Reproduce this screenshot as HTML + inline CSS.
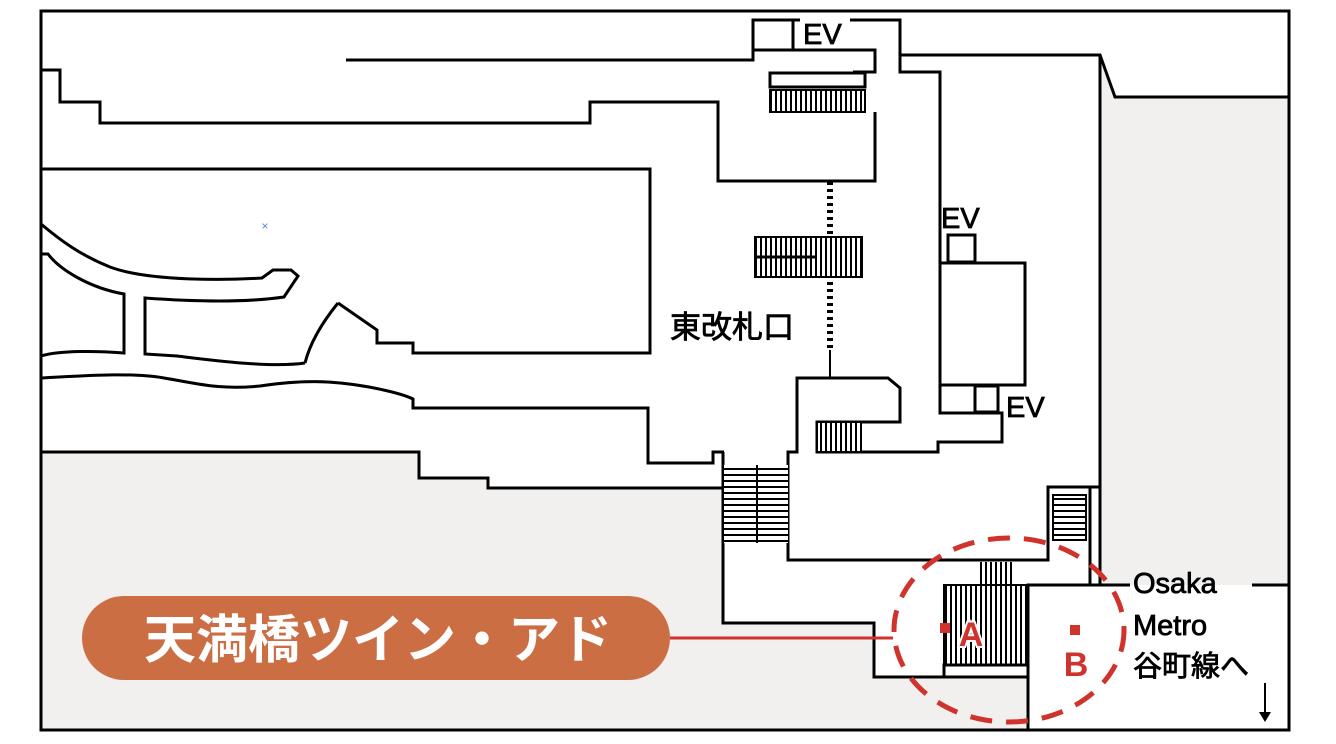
<!DOCTYPE html>
<html><head><meta charset="utf-8"><style>
html,body{margin:0;padding:0;background:#fff}
svg{display:block}
text{font-family:"Liberation Sans","Noto Sans CJK JP",sans-serif}
</style></head><body>
<svg width="1336" height="744" viewBox="0 0 1336 744" xmlns="http://www.w3.org/2000/svg">
<defs>
<pattern id="vs" width="5" height="10" patternUnits="userSpaceOnUse"><rect width="5" height="10" fill="#fff"/><rect x="0" width="2" height="10" fill="#000"/></pattern>
<pattern id="hs" width="10" height="6" patternUnits="userSpaceOnUse"><rect width="10" height="6" fill="#fff"/><rect y="0" width="10" height="2" fill="#000"/></pattern>
</defs>
<rect x="0" y="0" width="1336" height="744" fill="#fff"/>
<g fill="#f1f0ef">
<polygon points="41,452 419,452 419,478 488,478 488,488 723,488 723,623 874,623 874,677 1028,677 1028,730 41,730"/>
<polygon points="1100,55 1115,97 1289,97 1289,585 1100,585"/>
</g>
<g fill="none" stroke="#000" stroke-width="3" stroke-linejoin="miter">
<rect x="41" y="11" width="1248" height="719"/>
<polyline points="41,70 60,70 60,102 100,102 100,123 590,123 590,102 718,102 718,181 875,181 875,112"/>
<polyline points="346,60 753,60 753,20 800,20"/>
<polyline points="850,20 900,20 900,72 940,72 940,413 1002,413 1002,442 938,442 938,452 817,452 817,422 900,422 900,388 888,378 797,378 797,452 788,452 788,560 1048,560 1048,487 1100,487"/>
<polyline points="753,50 875,50 875,72 853,72"/>
<line x1="793" y1="20" x2="793" y2="50"/>
<polyline points="900,55 1100,55 1115,97 1289,97"/>
<line x1="1100" y1="55" x2="1100" y2="585"/>
<line x1="1090" y1="487" x2="1090" y2="585"/>
<rect x="948" y="235" width="27" height="27"/>
<rect x="940" y="263" width="85" height="122"/>
<rect x="975" y="386" width="23" height="26"/>
<polyline points="41,169 650,169 650,353 413,353 413,343 377,343 377,330 338,303"/>
<path d="M338,303 Q312,335 305,363"/>
<path d="M305,363 C270,368 210,360 177,356 L145,354 L145,298 C200,302 250,302 284,297 L298,276 L291,270 L273,270 L262,278 C230,280 150,282 110,267 C80,255 60,240 41,224"/>
<path d="M41,254 L48,254 C60,270 90,288 124,294 L124,353 C100,351 60,350 41,356"/>
<path d="M41,378 C80,376 130,372 164,378 C200,384 220,390 260,386 C300,380 330,380 369,387 C390,391 405,395 413,399 L413,408 L648,408 L648,463 L713,463 L713,452 L724,452"/>
<polyline points="41,452 419,452 419,478 488,478 488,488 723,488"/>
<polyline points="723,452 723,623 874,623 874,677 1028,677 1028,730"/>
<polyline points="1028,677 1028,585 1130,585"/>
<line x1="1252" y1="585" x2="1289" y2="585"/>
</g>
<rect x="770" y="73" width="95" height="14" fill="#fff" stroke="#000" stroke-width="3"/>
<rect x="770" y="90" width="95" height="22" fill="url(#vs)" stroke="#000" stroke-width="2"/>
<rect x="755" y="237" width="107" height="40" fill="url(#vs)" stroke="#000" stroke-width="2"/>
<line x1="755" y1="257" x2="815" y2="257" stroke="#000" stroke-width="3"/>
<rect x="817" y="422" width="44" height="30" fill="url(#vs)" stroke="#000" stroke-width="2"/>
<rect x="724" y="465" width="64" height="78" fill="url(#hs)"/>
<line x1="757" y1="465" x2="757" y2="543" stroke="#000" stroke-width="2"/>
<rect x="1053" y="495" width="33" height="45" fill="url(#hs)" stroke="#000" stroke-width="2"/>
<rect x="978" y="562" width="36" height="23" fill="url(#vs)"/>
<rect x="944" y="585" width="84" height="80" fill="url(#vs)" stroke="#000" stroke-width="2"/>
<rect x="944" y="665" width="84" height="12" fill="#fff" stroke="#000" stroke-width="3"/>
<line x1="830" y1="182" x2="830" y2="237" stroke="#000" stroke-width="6" stroke-dasharray="3,4"/>
<line x1="830" y1="282" x2="830" y2="350" stroke="#000" stroke-width="6" stroke-dasharray="3,4"/>
<line x1="830" y1="350" x2="830" y2="378" stroke="#000" stroke-width="2"/>
<text x="265" y="230" font-size="12" fill="#5b7fd8" text-anchor="middle">×</text>
<g font-size="29" fill="#000" stroke="#000" stroke-width="0.8">
<text x="803" y="44">EV</text>
<text x="941" y="228">EV</text>
<text x="1006" y="417">EV</text>
<text x="1133" y="593">Osaka</text>
<text x="1133" y="635">Metro</text>
<text x="1133" y="676">谷町線へ</text>
</g>
<text x="670" y="338" font-size="31" fill="#000" stroke="#000" stroke-width="0.8">東改札口</text>
<line x1="1265" y1="683" x2="1265" y2="715" stroke="#000" stroke-width="2"/>
<polygon points="1259,712 1271,712 1265,722" fill="#000"/>
<rect x="82" y="596" width="588" height="84" rx="42" fill="#cc6e44"/>
<text x="378" y="658" font-size="52" font-weight="bold" fill="#fff" text-anchor="middle">天満橋ツイン・アド</text>
<line x1="670" y1="638" x2="893" y2="638" stroke="#d0322c" stroke-width="3"/>
<ellipse cx="1009" cy="630" rx="115" ry="92" fill="none" stroke="#d0322c" stroke-width="5" stroke-dasharray="22,14"/>
<rect x="940" y="623" width="10" height="10" fill="#d0322c"/>
<rect x="1070" y="625" width="10" height="10" fill="#d0322c"/>
<text x="971" y="646" font-size="34" font-weight="bold" fill="#d0322c" text-anchor="middle" stroke="#fff" stroke-width="4" paint-order="stroke">A</text>
<text x="1076" y="676" font-size="34" font-weight="bold" fill="#d0322c" text-anchor="middle">B</text>
</svg>
</body></html>
